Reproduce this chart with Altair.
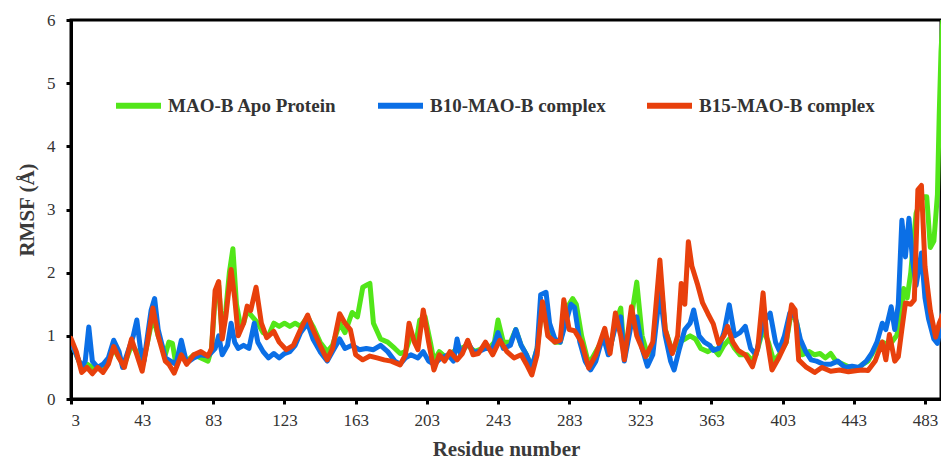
import altair as alt
import pandas as pd

# MAO-B Apo Protein (green)
apo_res = [3, 6, 9, 12, 15, 18, 21, 24, 27, 30, 33, 37, 40, 43, 46, 49, 52, 56, 58, 60, 62, 65, 68, 72, 76, 80, 82, 84, 86, 88, 90, 92, 94, 96, 98, 100, 102, 105, 108, 111, 114, 117, 120, 123, 126, 129, 132, 136, 139, 143, 147, 150, 154, 157, 161, 164, 167, 169, 171, 173, 177, 181, 185, 188, 191, 194, 197, 199, 202, 205, 207, 210, 214, 218, 222, 226, 230, 234, 238, 241, 243, 246, 250, 253, 256, 259, 262, 265, 268, 271, 275, 278, 281, 283, 285, 287, 290, 294, 298, 303, 306, 309, 312, 314, 318, 321, 324, 327, 330, 334, 337, 341, 345, 348, 351, 354, 357, 361, 364, 367, 370, 373, 376, 379, 383, 386, 389, 392, 395, 398, 401, 405, 408, 411, 414, 418, 421, 424, 427, 430, 433, 437, 441, 445, 448, 451, 455, 459, 463, 467, 469, 471, 473, 475, 478, 480, 482, 484, 486, 488, 490, 491, 492, 493]
apo_val = [0.9, 0.7, 0.5, 0.55, 0.5, 0.5, 0.48, 0.6, 0.8, 0.65, 0.55, 0.85, 0.75, 0.5, 0.9, 1.3, 1.0, 0.7, 0.9, 0.88, 0.55, 0.75, 0.6, 0.7, 0.65, 0.6, 0.8, 1.6, 1.8, 1.0, 1.4, 2.0, 2.38, 1.5, 1.2, 1.2, 1.4, 1.3, 1.2, 1.05, 1.0, 1.2, 1.15, 1.2, 1.15, 1.2, 1.15, 1.3, 1.15, 0.9, 0.75, 0.85, 1.2, 1.05, 1.37, 1.3, 1.77, 1.8, 1.83, 1.2, 0.95, 0.9, 0.8, 0.72, 0.75, 1.0, 0.9, 1.25, 1.3, 0.9, 0.6, 0.75, 0.65, 0.75, 0.8, 0.85, 0.75, 0.8, 0.8, 0.9, 1.25, 0.9, 0.9, 1.1, 0.85, 0.7, 0.5, 0.8, 1.5, 1.1, 0.9, 0.9, 1.3, 1.5, 1.59, 1.5, 1.0, 0.55, 0.75, 1.0, 0.8, 1.2, 1.44, 0.7, 1.3, 1.85, 1.0, 0.7, 0.8, 2.0, 1.1, 0.75, 0.9, 0.95, 1.0, 0.95, 0.8, 0.75, 0.8, 0.7, 0.85, 0.95, 0.8, 0.7, 0.7, 0.6, 0.8, 1.1, 0.9, 0.6, 0.7, 0.9, 1.4, 1.2, 0.7, 0.75, 0.7, 0.72, 0.65, 0.72, 0.6, 0.55, 0.5, 0.48, 0.55, 0.6, 0.8, 0.9, 0.85, 1.0, 1.2, 1.75, 1.6, 2.0, 2.94, 3.1, 3.2, 3.2, 2.4, 2.5, 3.24, 4.5, 5.5, 6.0]

# B10-MAO-B complex (blue)
b10_res = [3, 6, 9, 11, 13, 15, 18, 21, 24, 27, 30, 32, 35, 38, 40, 42, 44, 46, 48, 50, 52, 56, 59, 62, 65, 68, 72, 76, 80, 84, 86, 88, 91, 93, 95, 97, 100, 103, 106, 108, 111, 114, 117, 120, 123, 126, 129, 132, 136, 139, 143, 147, 150, 154, 157, 161, 165, 169, 173, 177, 181, 185, 188, 191, 194, 198, 201, 204, 207, 211, 215, 218, 220, 222, 226, 229, 232, 236, 240, 243, 246, 250, 253, 256, 259, 262, 265, 267, 270, 272, 275, 278, 281, 284, 286, 289, 292, 295, 298, 302, 305, 309, 312, 314, 318, 321, 324, 327, 330, 334, 337, 340, 342, 345, 348, 351, 353, 356, 359, 362, 364, 367, 370, 373, 376, 379, 382, 385, 388, 392, 396, 399, 401, 404, 407, 410, 413, 416, 419, 422, 426, 430, 434, 438, 442, 446, 450, 453, 456, 459, 461, 464, 466, 468, 470, 472, 474, 476, 478, 481, 483, 485, 488, 490, 492, 494]
b10_val = [0.9, 0.7, 0.5, 0.6, 1.14, 0.6, 0.5, 0.55, 0.65, 0.93, 0.75, 0.5, 0.75, 1.0, 1.25, 0.8, 0.6, 1.0, 1.4, 1.59, 1.1, 0.65, 0.6, 0.55, 0.93, 0.57, 0.65, 0.7, 0.68, 0.8, 1.0, 0.7, 0.85, 1.2, 0.9, 0.8, 0.85, 0.8, 1.2, 0.9, 0.75, 0.65, 0.72, 0.65, 0.72, 0.75, 0.85, 1.05, 1.2, 0.95, 0.75, 0.6, 0.75, 0.95, 0.8, 0.85, 0.78, 0.8, 0.78, 0.85, 0.75, 0.6, 0.55, 0.65, 0.7, 0.65, 0.75, 0.6, 0.55, 0.65, 0.7, 0.6, 0.95, 0.7, 0.9, 0.75, 0.75, 0.8, 0.8, 1.05, 0.8, 0.85, 1.1, 0.85, 0.7, 0.5, 0.8, 1.65, 1.69, 1.2, 0.95, 0.9, 1.2, 1.5, 1.45, 0.9, 0.6, 0.46, 0.6, 1.0, 0.7, 1.15, 1.3, 0.6, 1.2, 1.3, 0.8, 0.52, 0.7, 1.7, 1.0, 0.6, 0.46, 0.8, 1.1, 1.2, 1.41, 1.0, 0.9, 0.85, 0.77, 0.8, 1.05, 1.49, 1.0, 1.05, 1.15, 0.8, 0.7, 1.2, 1.36, 0.9, 0.77, 1.0, 1.36, 1.3, 0.94, 0.75, 0.62, 0.6, 0.55, 0.55, 0.6, 0.5, 0.52, 0.5, 0.6, 0.72, 0.9, 1.2, 1.1, 1.46, 1.1, 1.5, 2.83, 2.25, 2.86, 2.2, 1.8, 2.31, 1.6, 1.27, 0.95, 0.88, 1.2, 1.5]

# B15-MAO-B complex (red)
b15_res = [3, 6, 9, 12, 15, 18, 21, 24, 27, 30, 33, 37, 40, 43, 46, 49, 52, 56, 58, 61, 65, 68, 72, 76, 80, 82, 84, 86, 88, 90, 93, 95, 97, 100, 102, 104, 107, 110, 113, 117, 120, 124, 128, 132, 136, 139, 143, 147, 150, 154, 157, 160, 163, 167, 171, 175, 179, 183, 188, 191, 193, 196, 198, 201, 204, 207, 210, 213, 216, 220, 223, 226, 229, 232, 236, 240, 244, 248, 252, 256, 259, 262, 265, 268, 271, 275, 278, 280, 283, 286, 290, 294, 298, 303, 306, 309, 312, 314, 318, 321, 324, 326, 330, 334, 337, 341, 344, 346, 348, 350, 352, 355, 358, 361, 364, 367, 370, 372, 375, 378, 382, 386, 389, 392, 394, 397, 401, 405, 408, 410, 412, 416, 421, 425, 430, 435, 440, 445, 448, 451, 455, 459, 461, 463, 466, 468, 470, 472, 475, 477, 479, 481, 483, 486, 489, 491, 494]
b15_val = [0.96, 0.75, 0.42, 0.5, 0.4, 0.5, 0.42, 0.55, 0.83, 0.65, 0.5, 0.95, 0.7, 0.44, 0.9, 1.44, 1.0, 0.6, 0.55, 0.41, 0.7, 0.55, 0.7, 0.75, 0.68, 0.8, 1.72, 1.86, 0.95, 1.3, 2.05, 1.6, 1.0, 1.2, 1.47, 1.4, 1.77, 1.2, 0.97, 1.07, 0.9, 0.78, 0.85, 1.1, 1.33, 1.1, 0.85, 0.62, 0.8, 1.35, 1.2, 1.1, 0.7, 0.62, 0.68, 0.65, 0.62, 0.6, 0.54, 0.7, 1.2, 0.9, 0.78, 1.41, 0.9, 0.46, 0.7, 0.6, 0.75, 0.62, 0.72, 0.93, 0.7, 0.72, 0.9, 0.7, 0.93, 0.75, 0.65, 0.7, 0.55, 0.38, 0.7, 1.54, 1.0, 0.9, 0.93, 1.57, 1.1, 1.08, 0.9, 0.49, 0.7, 1.12, 0.72, 1.36, 1.0, 0.62, 1.46, 1.0, 0.8, 0.67, 0.9, 2.2, 1.1, 0.72, 1.0, 1.83, 1.5, 2.49, 2.1, 1.83, 1.52, 1.35, 1.19, 0.88, 1.0, 1.15, 0.9, 0.77, 0.7, 0.51, 0.8, 1.68, 1.0, 0.46, 0.66, 0.9, 1.49, 1.41, 0.62, 0.51, 0.42, 0.5, 0.44, 0.46, 0.43, 0.45, 0.46, 0.45, 0.6, 0.9, 0.62, 1.02, 0.6, 0.67, 1.1, 1.52, 1.5, 1.57, 3.31, 3.38, 2.1, 1.4, 0.98, 1.2, 1.4]

series_names = ["MAO-B Apo Protein", "B10-MAO-B complex", "B15-MAO-B complex"]
series_colors = ["#52E619", "#0B6FE6", "#E8400C"]
x_ticks = [3, 43, 83, 123, 163, 203, 243, 283, 323, 363, 403, 443, 483]
y_ticks = [0, 1, 2, 3, 4, 5, 6]

frames = []
for name, res, val in zip(series_names, [apo_res, b10_res, b15_res], [apo_val, b10_val, b15_val]):
    frames.append(pd.DataFrame({"residue": res, "rmsf": val, "series": name}))

serif = "Liberation Serif"

color = alt.Color(
    "series:N",
    scale=alt.Scale(domain=series_names, range=series_colors),
    legend=alt.Legend(
        title=None,
        orient="none",
        direction="horizontal",
        legendX=42,
        legendY=60,
        symbolType="stroke",
        symbolSize=2025,
        symbolStrokeWidth=6,
        labelFont=serif,
        labelFontWeight="bold",
        labelFontSize=19,
        labelColor="#333333",
        labelOffset=4,
        labelLimit=400,
        columnPadding=29,
        padding=0,
    ),
)

x = alt.X(
    "residue:Q",
    scale=alt.Scale(domain=[3, 492], nice=False, zero=False),
    axis=alt.Axis(values=x_ticks, title="Residue number"),
)
y = alt.Y(
    "rmsf:Q",
    scale=alt.Scale(domain=[0, 6], nice=False),
    axis=alt.Axis(values=y_ticks, title="RMSF (Å)"),
)

layers = [
    alt.Chart(df).mark_line(strokeWidth=5, strokeJoin="round", strokeCap="round", clip=True).encode(
        x=x, y=y, color=color
    )
    for df in frames
]

chart = (
    alt.layer(*layers)
    .properties(
        width=870,
        height=379,
        autosize=alt.AutoSizeParams(type="none"),
        padding={"left": 63, "top": 12, "right": 0, "bottom": 60},
    )
    .configure_view(stroke="black", strokeWidth=3)
    .configure_axis(
        grid=False,
        domainColor="black",
        domainWidth=3,
        tickColor="black",
        tickWidth=3,
        tickSize=5,
        labelFont=serif,
        labelFontSize=17,
        labelColor="#333333",
        titleFont=serif,
        titleFontWeight="bold",
        titleFontSize=21,
        titleColor="#3a3a3a",
    )
    .configure_axisX(labelPadding=8, titlePadding=10)
    .configure_axisY(labelPadding=11, titlePadding=9)
)

chart.save("out.html", embed_options={"renderer": "svg", "actions": False})
